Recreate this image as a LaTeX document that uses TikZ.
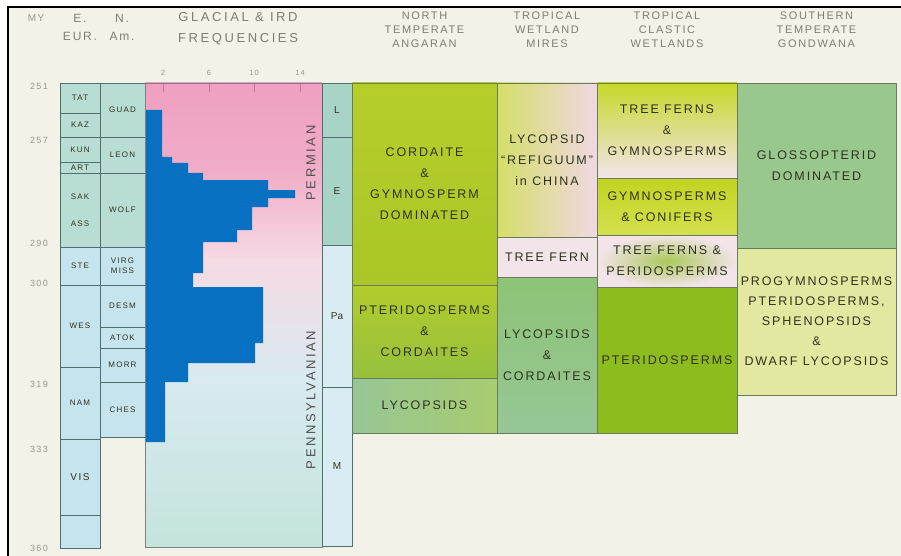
\documentclass[tikz,border=0pt]{standalone}
\usepackage{fontspec}
\setmainfont{Liberation Sans}
\newfontfamily\chartfont[LetterSpace=15]{Liberation Sans}
\newfontfamily\headfont[LetterSpace=20]{Liberation Sans}

\definecolor{paper}{RGB}{242,242,232}
\definecolor{headgray}{RGB}{125,125,115}
\definecolor{numgray}{RGB}{150,150,140}
\definecolor{periodgray}{RGB}{80,80,80}
\definecolor{ink}{RGB}{48,50,30}
\definecolor{stageline}{RGB}{80,112,112}
\definecolor{zoneline}{RGB}{104,124,92}
\definecolor{permteal}{RGB}{183,221,213}
\definecolor{pennblue}{RGB}{198,228,238}
\definecolor{epochteal}{RGB}{168,212,200}
\definecolor{epochblue}{RGB}{218,236,243}
\definecolor{irdblue}{RGB}{8,112,192}
\definecolor{tickpink}{RGB}{200,120,150}
\definecolor{cordgreen}{RGB}{182,206,42}
\definecolor{cordlow}{RGB}{170,198,40}
\definecolor{ptergreen}{RGB}{178,204,44}
\definecolor{pterlow}{RGB}{150,192,62}
\definecolor{lycogray}{RGB}{150,198,150}
\definecolor{lycoyel}{RGB}{168,204,112}
\definecolor{mireyel}{RGB}{212,222,105}
\definecolor{mirepink}{RGB}{240,216,226}
\definecolor{fernpink}{RGB}{243,228,234}
\definecolor{mirelow}{RGB}{142,196,118}
\definecolor{miremid}{RGB}{170,206,66}
\definecolor{clasticyel}{RGB}{198,216,40}
\definecolor{conifer}{RGB}{192,212,32}
\definecolor{coniferlt}{RGB}{212,224,78}
\definecolor{pteridgreen}{RGB}{140,188,30}
\definecolor{glossgreen}{RGB}{152,200,142}
\definecolor{progyel}{RGB}{226,232,160}

\begin{document}
\begin{tikzpicture}[x=1pt, y=-1pt,
    cellsize/.style 2 args={minimum width=#1, minimum height=#2},
    stage/.style={draw=stageline, line width=0.8pt, inner sep=0pt, text=ink,
      align=center, font=\chartfont\fontsize{8}{10}\selectfont},
    epoch/.style={draw=stageline, line width=0.8pt, inner sep=0pt, text=ink,
      font=\fontsize{10}{12}\selectfont},
    flora/.style={draw=zoneline, line width=0.8pt, inner sep=0pt, text=ink,
      align=center, font=\chartfont\fontsize{12.5}{21}\selectfont},
    colhead/.style={text=headgray, align=center, font=\chartfont\fontsize{11}{14}\selectfont},
    bighead/.style={text=headgray, align=center, font=\headfont\fontsize{13}{21}\selectfont},
    agelabel/.style={text=numgray, font=\chartfont\fontsize{9}{11}\selectfont},
    ticklabel/.style={text=numgray, font=\chartfont\fontsize{7.5}{9}\selectfont},
    period/.style={text=periodgray, rotate=90, font=\headfont\fontsize{13}{15}\selectfont},
  ]
  \useasboundingbox (0,0) rectangle (901,556);
  \fill[white] (-6,-6) rectangle (907,562);
  \fill[paper] (8,7) rectangle (907,562);
  \draw[black, line width=1.3pt] (8,562) -- (8,7) -- (907,7);

  % headers
  \node[agelabel, font=\chartfont\fontsize{10}{12}\selectfont] (my) at (36,18) {MY};
  \node[colhead, font=\chartfont\fontsize{12}{18}\selectfont] (heur) at (80,27) {E.\\EUR.};
  \node[colhead, font=\chartfont\fontsize{12}{18}\selectfont] (ham) at (122,27) {N.\\Am.};
  \node[bighead] (hird) at (238,28.5) {GLACIAL \& IRD\\FREQUENCIES};
  \node[colhead] (hnt) at (424.5,30) {NORTH\\TEMPERATE\\ANGARAN};
  \node[colhead] (htw) at (547,30) {TROPICAL\\WETLAND\\MIRES};
  \node[colhead] (htc) at (667,30) {TROPICAL\\CLASTIC\\WETLANDS};
  \node[colhead] (hst) at (816.5,30) {SOUTHERN\\TEMPERATE\\GONDWANA};

  % ages
  \foreach \age/\ya in {251/86, 257/140, 290/243, 300/283, 319/384, 333/449, 360/548}
    \node[agelabel] (age\age) at (39,\ya) {\age};

  % E. Eur stages
  \node[stage, cellsize={40}{30}, fill=permteal] (tat) at (80,98) {TAT};
  \node[stage, cellsize={40}{24}, fill=permteal] (kaz) at (80,125) {KAZ};
  \node[stage, cellsize={40}{25}, fill=permteal] (kun) at (80,149.5) {KUN};
  \node[stage, cellsize={40}{11}, fill=permteal] (art) at (80,167.5) {ART};
  \node[stage, cellsize={40}{74}, fill=permteal] (sak) at (80,210) {SAK\\[17pt]ASS};
  \node[stage, cellsize={40}{38}, fill=pennblue] (ste) at (80,266) {STE};
  \node[stage, cellsize={40}{82}, fill=pennblue] (wes) at (80,326) {WES};
  \node[stage, cellsize={40}{72}, fill=pennblue] (nam) at (80,403) {NAM};
  \node[stage, cellsize={40}{76}, fill=pennblue, font=\chartfont\fontsize{10}{12}\selectfont] (vis) at (80,477) {VIS};
  \node[stage, cellsize={40}{33}, fill=pennblue] (ser) at (80,531.5) {};

  % N. Am stages
  \node[stage, cellsize={45}{54}, fill=permteal] (guad) at (122.5,110) {GUAD};
  \node[stage, cellsize={45}{36}, fill=permteal] (leon) at (122.5,155) {LEON};
  \node[stage, cellsize={45}{74}, fill=permteal] (wolf) at (122.5,210) {WOLF};
  \node[stage, cellsize={45}{38}, fill=pennblue] (virg) at (122.5,266) {VIRG\\MISS};
  \node[stage, cellsize={45}{42}, fill=pennblue] (desm) at (122.5,306) {DESM};
  \node[stage, cellsize={45}{21}, fill=pennblue] (atok) at (122.5,337.5) {ATOK};
  \node[stage, cellsize={45}{34}, fill=pennblue] (morr) at (122.5,365) {MORR};
  \node[stage, cellsize={45}{55}, fill=pennblue] (ches) at (122.5,409.5) {CHES};

  % glacial column
  \fill[top color={rgb,255:red,239;green,160;blue,192}, bottom color={rgb,255:red,240;green,172;blue,200}] (145,83) rectangle (322,170);
  \fill[top color={rgb,255:red,240;green,172;blue,200}, bottom color={rgb,255:red,246;green,218;blue,228}] (145,170) rectangle (322,260);
  \fill[top color={rgb,255:red,246;green,218;blue,228}, bottom color={rgb,255:red,216;green,234;blue,240}] (145,260) rectangle (322,380);
  \fill[top color={rgb,255:red,216;green,234;blue,240}, bottom color={rgb,255:red,196;green,228;blue,220}] (145,380) rectangle (322,547);
  \foreach \tx/\tl in {163/2, 209/6, 254/10, 300/14} {
    \draw[tickpink, line width=0.7pt] (\tx,83) -- (\tx,92);
    \node[ticklabel] (tick\tl) at (\tx,73) {\tl};
  }
  \fill[irdblue] (145,110) -- (162,110) -- (162,157) -- (172,157) -- (172,163)
    -- (188,163) -- (188,173) -- (203,173) -- (203,180) -- (268,180) -- (268,190)
    -- (295,190) -- (295,198) -- (268,198) -- (268,207) -- (252,207) -- (252,230)
    -- (237,230) -- (237,242) -- (203,242) -- (203,273) -- (193,273) -- (193,287)
    -- (263,287) -- (263,343) -- (255,343) -- (255,363) -- (188,363) -- (188,382)
    -- (165,382) -- (165,442) -- (145,442) -- cycle;
  \draw[gray, line width=0.8pt] (145,83) rectangle (322,547);
  \node[period] (perm) at (311,163) {PERMIAN};
  \node[period] (penn) at (311,400) {PENNSYLVANIAN};

  % epochs
  \node[epoch, cellsize={30}{54}, fill=epochteal] (late) at (337,110) {L};
  \node[epoch, cellsize={30}{108}, fill=epochteal] (early) at (337,191) {E};
  \node[epoch, cellsize={30}{142}, fill=epochblue] (pa) at (337,316) {Pa};
  \node[epoch, cellsize={30}{159}, fill=epochblue] (miss) at (337,466.5) {M};

  % north temperate angaran
  \node[flora, cellsize={145}{202}, top color=cordgreen, bottom color=cordlow] (nt1) at (424.5,184)
    {CORDAITE\\\&\\GYMNOSPERM\\DOMINATED};
  \node[flora, cellsize={145}{93}, top color=ptergreen, bottom color=pterlow] (nt2) at (424.5,331.5)
    {PTERIDOSPERMS\\\&\\CORDAITES};
  \node[flora, cellsize={145}{55}, left color=lycogray, right color=lycoyel] (nt3) at (424.5,405.5)
    {LYCOPSIDS};

  % tropical wetland mires
  \node[flora, cellsize={100}{154}, left color=mireyel, right color=mirepink] (tw1) at (547,160)
    {LYCOPSID\\“REFIGUUM”\\in CHINA};
  \node[flora, cellsize={100}{40}, fill=fernpink] (tw2) at (547,257) {TREE FERN};
  \node[flora, cellsize={100}{156}, top color=mirelow, middle color=miremid, bottom color=lycogray] (tw3) at (547,355)
    {LYCOPSIDS\\\&\\CORDAITES};

  % tropical clastic wetlands
  \node[flora, cellsize={140}{95}, top color=clasticyel, bottom color=fernpink] (tc1) at (667,130.5)
    {TREE FERNS\\\&\\GYMNOSPERMS};
  \node[flora, cellsize={140}{57}, top color=conifer, bottom color=coniferlt] (tc2) at (667,206.5)
    {GYMNOSPERMS\\\& CONIFERS};
  \node[flora, cellsize={140}{52}, inner color=pteridgreen!70!fernpink, outer color=fernpink] (tc3) at (667,261)
    {TREE FERNS \&\\PERIDOSPERMS};
  \node[flora, cellsize={140}{146}, fill=pteridgreen] (tc4) at (667,360) {PTERIDOSPERMS};

  % southern temperate gondwana
  \node[flora, cellsize={159}{165}, fill=glossgreen] (st1) at (816.5,165.5)
    {GLOSSOPTERID\\DOMINATED};
  \node[flora, cellsize={159}{147}, fill=progyel, font=\chartfont\fontsize{12.5}{20}\selectfont] (st2) at (816.5,321.5)
    {PROGYMNOSPERMS\\PTERIDOSPERMS,\\SPHENOPSIDS\\\&\\DWARF LYCOPSIDS};
\end{tikzpicture}
\end{document}
